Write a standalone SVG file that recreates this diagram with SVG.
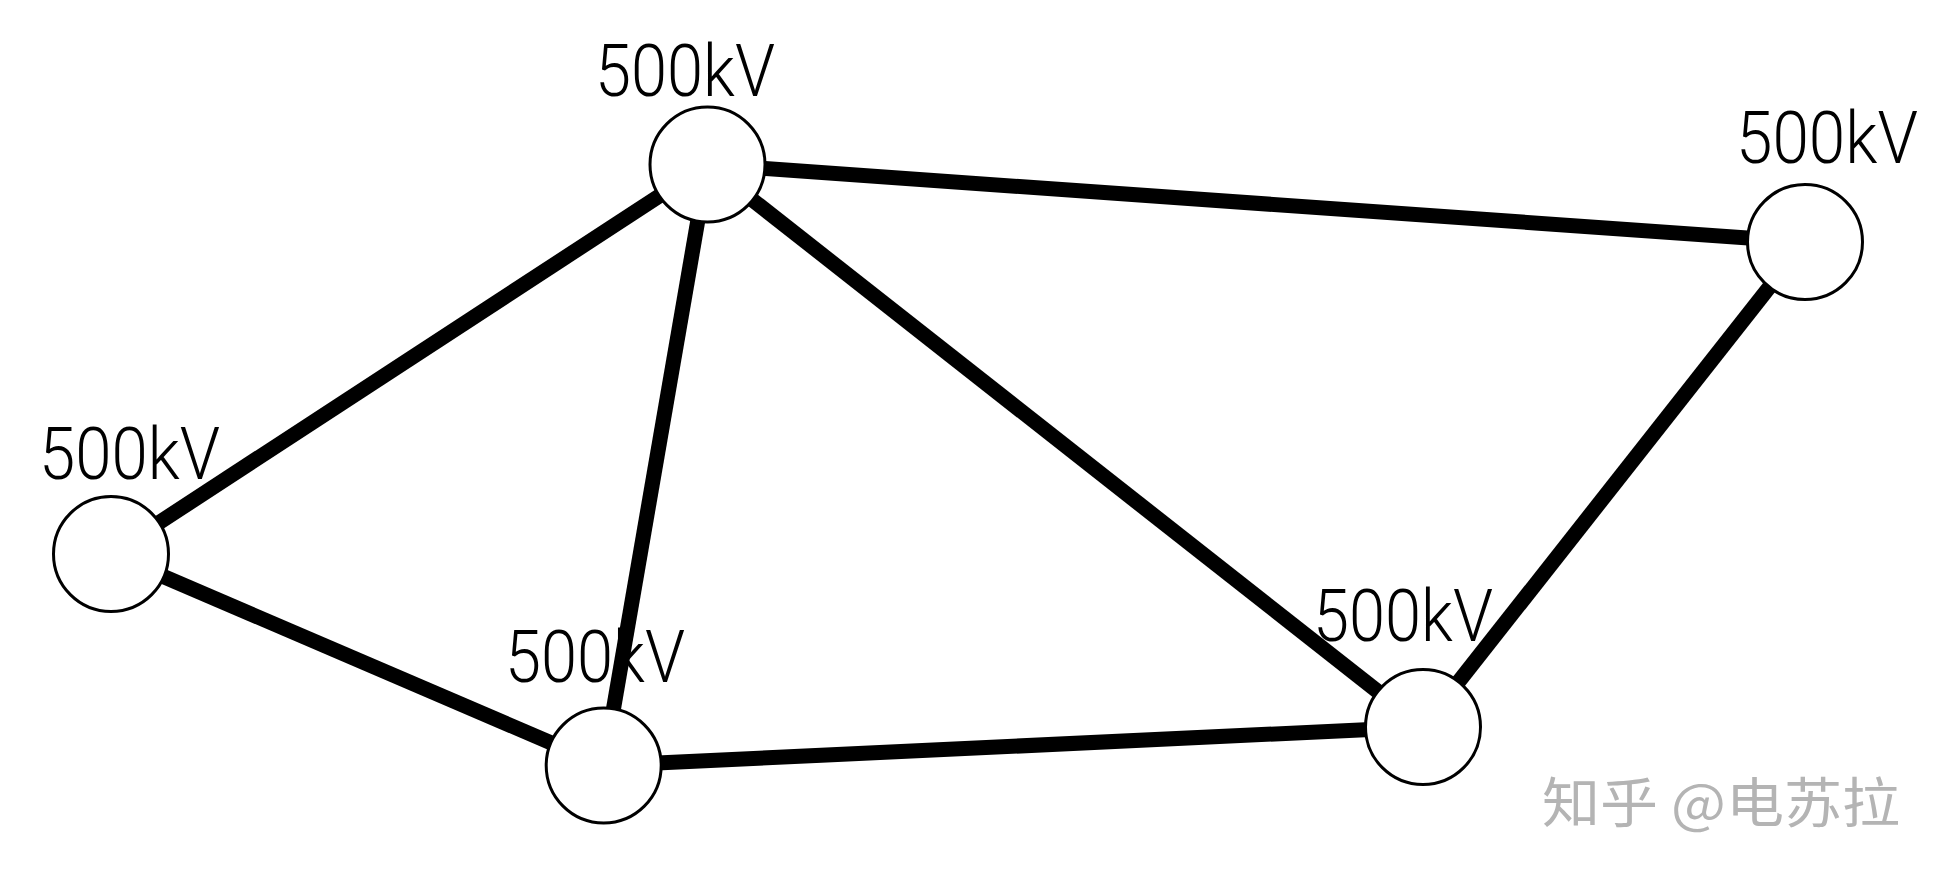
<svg xmlns="http://www.w3.org/2000/svg" width="1951" height="881" viewBox="0 0 1951 881">
<style>
.edge{stroke:#000;stroke-width:15;stroke-linecap:butt}
.node circle{fill:#fff;stroke:#000;stroke-width:3}
.lbl{font-family:Roboto,"Liberation Sans",sans-serif;font-weight:300;font-size:73px;fill:#000}
.wm{font-family:"Noto Sans CJK SC","Noto Sans",sans-serif;font-size:54px;fill:#b4b4b4}
</style>
<rect width="1951" height="881" fill="#fff"/>
<g id="connectors">
<line class="edge" x1="707.5" y1="164.5" x2="1805" y2="242"/>
<line class="edge" x1="707.5" y1="164.5" x2="111" y2="554"/>
<line class="edge" x1="707.5" y1="164.5" x2="603.7" y2="765.5"/>
<line class="edge" x1="707.5" y1="164.5" x2="1423" y2="727"/>
<line class="edge" x1="1805" y1="242" x2="1423" y2="727"/>
<line class="edge" x1="111" y1="554" x2="603.7" y2="765.5"/>
<line class="edge" x1="603.7" y1="765.5" x2="1423" y2="727"/>
</g>
<g id="nodeA" class="node">
<circle cx="707.5" cy="164.5" r="57.5"/>
<text class="lbl" x="595" y="96" textLength="180" lengthAdjust="spacingAndGlyphs">500kV</text>
</g>
<g id="nodeB" class="node">
<circle cx="1805" cy="242" r="57.5"/>
<text class="lbl" x="1736" y="162.5" textLength="182" lengthAdjust="spacingAndGlyphs">500kV</text>
</g>
<g id="nodeC" class="node">
<circle cx="111" cy="554" r="57.5"/>
<text class="lbl" x="39" y="479" textLength="181" lengthAdjust="spacingAndGlyphs">500kV</text>
</g>
<g id="nodeD" class="node">
<circle cx="603.7" cy="765.5" r="57.5"/>
<text class="lbl" x="505" y="681.5" textLength="180" lengthAdjust="spacingAndGlyphs">500kV</text>
</g>
<g id="nodeE" class="node">
<circle cx="1423" cy="727" r="57.5"/>
<text class="lbl" x="1313" y="640.5" textLength="180" lengthAdjust="spacingAndGlyphs">500kV</text>
</g>
<text class="wm" x="1542" y="823" textLength="358" lengthAdjust="spacingAndGlyphs">知乎 @电苏拉</text>
</svg>
